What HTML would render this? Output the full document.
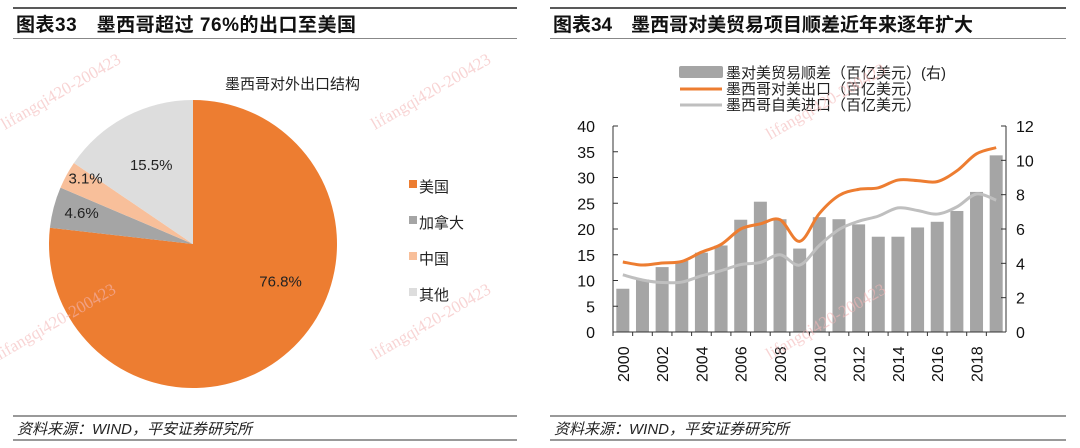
<!DOCTYPE html>
<html><head><meta charset="utf-8"><style>
body{margin:0;width:1080px;height:448px;background:#fff;overflow:hidden;font-family:"Liberation Sans","Noto Sans CJK SC",sans-serif;}
svg{position:absolute;left:0;top:0}
</style></head><body>
<svg width="1080" height="448" id="s">
<g>
<line x1="13" y1="8" x2="517" y2="8" stroke="#222" stroke-width="1.5"/>
<text x="16" y="31" font-size="19" font-weight="bold" fill="#111" textLength="340">图表33　墨西哥超过 76%的出口至美国</text>
<line x1="13" y1="38.5" x2="517" y2="38.5" stroke="#888" stroke-width="1"/>
<text x="225" y="89" font-size="15" fill="#222">墨西哥对外出口结构</text>
<g id="pie"></g>
<g id="pieleg"></g>
<line x1="13" y1="416" x2="517" y2="416" stroke="#333" stroke-width="1"/>
<text x="17" y="434" font-size="15" font-style="italic" fill="#222">资料来源：WIND，平安证券研究所</text>
<line x1="13" y1="440" x2="517" y2="440" stroke="#333" stroke-width="1"/>
</g>
<g>
<line x1="550" y1="8" x2="1066" y2="8" stroke="#222" stroke-width="1.5"/>
<text x="553" y="31" font-size="19" font-weight="bold" fill="#111" textLength="420">图表34　墨西哥对美贸易项目顺差近年来逐年扩大</text>
<line x1="550" y1="38.5" x2="1066" y2="38.5" stroke="#888" stroke-width="1"/>
<g id="chart"></g>
<line x1="550" y1="416" x2="1066" y2="416" stroke="#333" stroke-width="1"/>
<text x="554" y="434" font-size="15" font-style="italic" fill="#222">资料来源：WIND，平安证券研究所</text>
<line x1="550" y1="440" x2="1066" y2="440" stroke="#333" stroke-width="1"/>
</g>
<g fill="#f4b8b8" font-family="Liberation Serif,serif" font-size="17" opacity="0.6">
<text transform="translate(5,130) rotate(-30)">lifangqi420-200423</text>
<text transform="translate(0,360) rotate(-30)">lifangqi420-200423</text>
<text transform="translate(375,360) rotate(-30)">lifangqi420-200423</text>
<text transform="translate(375,130) rotate(-30)">lifangqi420-200423</text>
<text transform="translate(770,140) rotate(-30)">lifangqi420-200423</text>
<text transform="translate(770,360) rotate(-30)">lifangqi420-200423</text>
</g>
</svg>
<script>
const NS="http://www.w3.org/2000/svg";
function mk(p,t,a,txt){const e=document.createElementNS(NS,t);for(const k in a)e.setAttribute(k,a[k]);if(txt!==undefined)e.textContent=txt;p.appendChild(e);return e;}
// ---- pie data
const pieLabels=["美国","加拿大","中国","其他"];
const pieValues=[76.8,4.6,3.1,15.5];
const pieColors=["#ED7D31","#A5A5A5","#F8BF9A","#DDDDDD"];
const pie=document.getElementById('pie');
const cx=193,cy=244,r=144;
let tot=pieValues.reduce((a,b)=>a+b,0),ang=0;
const labOff=[[30,-22],[7,5],[0,-2],[0,5]];
const mids=[];
pieValues.forEach((v,i)=>{
 const a0=ang,a1=ang+v/tot*2*Math.PI;ang=a1;mids.push((a0+a1)/2);
 const x0=cx+r*Math.sin(a0),y0=cy-r*Math.cos(a0),x1=cx+r*Math.sin(a1),y1=cy-r*Math.cos(a1);
 const sl=mk(pie,'path',{d:`M${cx},${cy}L${x0},${y0}A${r},${r} 0 ${a1-a0>Math.PI?1:0} 1 ${x1},${y1}Z`,fill:pieColors[i]});
 
 
});
pieValues.forEach((v,i)=>{
 const m=mids[i],k=i==0?0.6:(i==3?0.62:0.85);
 const t=mk(pie,'text',{x:cx+r*k*Math.sin(m)+labOff[i][0],y:cy-r*k*Math.cos(m)+labOff[i][1],'font-size':15,fill:'#222','text-anchor':'middle'},v.toFixed(1)+'%');
 
 
});
const pl=document.getElementById('pieleg');
pieLabels.forEach((l,i)=>{
 const y=186+i*36;
 const g=mk(pl,'g',{});
 
 
 mk(g,'rect',{x:409,y:y-6,width:8,height:8,fill:pieColors[i]});
 mk(g,'text',{x:419,y:y+6,'font-size':15,fill:'#222'},l);
});
// ---- trade chart data
const years=[2000,2001,2002,2003,2004,2005,2006,2007,2008,2009,2010,2011,2012,2013,2014,2015,2016,2017,2018,2019];
const surplus=[2.52,3.06,3.78,4.14,4.62,5.04,6.54,7.59,6.57,4.86,6.69,6.57,6.27,5.55,5.55,6.09,6.42,7.05,8.16,10.29];
const exportsUS=[13.6,13.0,13.4,13.7,15.5,17.0,20.0,21.0,21.8,17.6,23.0,26.5,27.7,28.0,29.5,29.4,29.2,31.3,34.6,35.8];
const importsUS=[11.1,10.1,9.6,9.7,10.9,11.9,13.1,13.5,15.0,13.0,16.8,19.9,21.5,22.5,24.1,23.6,22.9,24.3,26.8,25.6];
const leftTicks=[0,5,10,15,20,25,30,35,40];
const rightTicks=[0,2,4,6,8,10,12];
const X0=613,X1=1006,Y0=332,Y1=126;
const bw=(X1-X0)/years.length;
const xc=i=>X0+bw*(i+0.5);
const yL=v=>Y0-(v/40)*(Y0-Y1);
const yR=v=>Y0-(v/12)*(Y0-Y1);
const c=document.getElementById('chart');
surplus.forEach((v,i)=>{
 const b=mk(c,'rect',{x:xc(i)-6.5,y:yR(v),width:13,height:Y0-yR(v),fill:'#A5A5A5'});
 
 
});
mk(c,'line',{x1:X0,y1:Y1,x2:X0,y2:Y0,stroke:'#333'});
mk(c,'line',{x1:X1,y1:Y1,x2:X1,y2:Y0,stroke:'#333'});
mk(c,'line',{x1:X0,y1:Y0,x2:X1,y2:Y0,stroke:'#333'});
leftTicks.forEach(t=>{mk(c,'line',{x1:X0,x2:X0+5,y1:yL(t),y2:yL(t),stroke:'#333'});
 const e=mk(c,'text',{x:X0-18,y:yL(t)+6,'font-size':16,'text-anchor':'end',fill:'#111'},t);
 });
rightTicks.forEach(t=>{mk(c,'line',{x1:X1-5,x2:X1,y1:yR(t),y2:yR(t),stroke:'#333'});
 const e=mk(c,'text',{x:X1+10,y:yR(t)+6,'font-size':16,fill:'#111'},t);
 });
years.forEach((y,i)=>{mk(c,'line',{x1:X0+bw*i,x2:X0+bw*i,y1:Y0,y2:Y0+4,stroke:'#333'});
 if(i%2==0){const e=mk(c,'text',{transform:`translate(${xc(i)+6},${Y0+50}) rotate(-90)`,'font-size':16,fill:'#111'},y);
 }});
function smooth(vals){const p=vals.map((v,i)=>[xc(i),yL(v)]);let d=`M${p[0][0]},${p[0][1]}`;
 for(let i=0;i<p.length-1;i++){const a=p[i-1]||p[i],b=p[i],c2=p[i+1],e=p[i+2]||c2;
 d+=`C${b[0]+(c2[0]-a[0])/6},${b[1]+(c2[1]-a[1])/6} ${c2[0]-(e[0]-b[0])/6},${c2[1]-(e[1]-b[1])/6} ${c2[0]},${c2[1]}`;}return d;}
const li=mk(c,'path',{d:smooth(importsUS),fill:'none',stroke:'#BFBFBF','stroke-width':3});

const le=mk(c,'path',{d:smooth(exportsUS),fill:'none',stroke:'#ED7D31','stroke-width':3});

const lg=mk(c,'g',{});

mk(lg,'rect',{x:679,y:66,width:44,height:12,fill:'#A5A5A5',rx:2});
mk(lg,'text',{x:726,y:78,'font-size':15,fill:'#222'},'墨对美贸易顺差（百亿美元）(右)');
mk(lg,'line',{x1:680,x2:722,y1:89,y2:89,stroke:'#ED7D31','stroke-width':3});
mk(lg,'text',{x:726,y:94,'font-size':15,fill:'#222'},'墨西哥对美出口（百亿美元）');
mk(lg,'line',{x1:680,x2:722,y1:105,y2:105,stroke:'#BFBFBF','stroke-width':3});
mk(lg,'text',{x:726,y:110,'font-size':15,fill:'#222'},'墨西哥自美进口（百亿美元）');
</script>
</body></html>
